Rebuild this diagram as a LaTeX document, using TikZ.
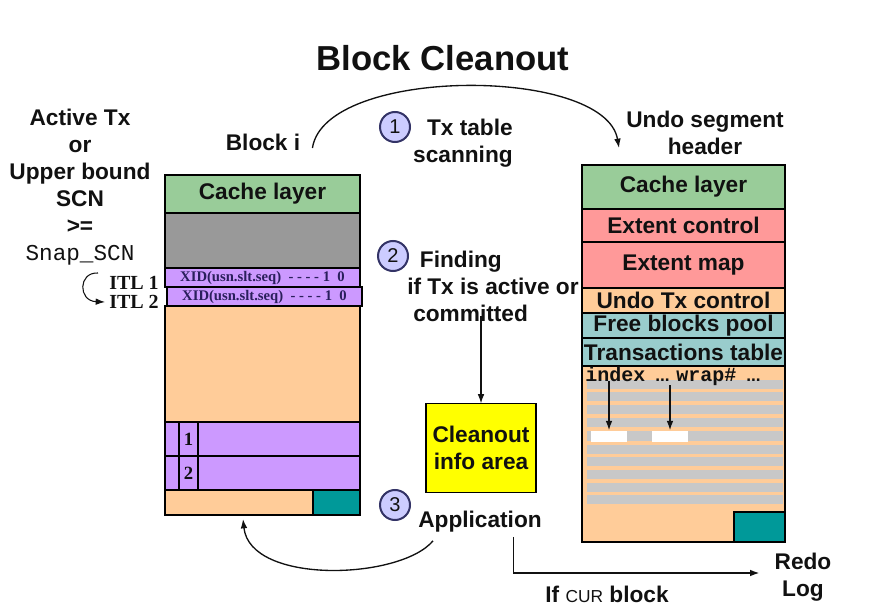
\documentclass[tikz,border=0pt]{standalone}
\usepackage{fontspec}
\setmainfont{Liberation Sans}
\setmonofont{Liberation Mono}
\newfontfamily\timesfont{Liberation Serif}
\usepackage{tikz}
\usetikzlibrary{positioning,arrows.meta,calc}
\definecolor{BCink}{HTML}{111111}
\definecolor{BCgreen}{HTML}{99CC99}
\definecolor{BCgray}{HTML}{999999}
\definecolor{BCpurple}{HTML}{CC99FF}
\definecolor{BCpeach}{HTML}{FFCC99}
\definecolor{BCteal}{HTML}{009999}
\definecolor{BCrose}{HTML}{FF9999}
\definecolor{BCaqua}{HTML}{99CCCC}
\definecolor{BCstripe}{HTML}{C8C8C8}
\definecolor{BCyellow}{HTML}{FFFF00}
\definecolor{BClav}{HTML}{CCCCFF}
\definecolor{BCnavy}{HTML}{333366}
\definecolor{BCxid}{HTML}{2A1F5C}
\newcommand{\lbl}{\fontsize{17}{20.25}\selectfont\bfseries}
\newcommand{\xidfont}{\timesfont\fontsize{11}{11}\selectfont\bfseries}
\newcommand{\numfont}{\timesfont\fontsize{14}{14}\selectfont\bfseries}
\tikzset{
  layer/.style={draw=black, line width=1.5pt, outer sep=0pt, inner sep=0pt, font=\lbl, text=BCink},
  sized/.style 2 args={minimum width=#1*0.75pt, minimum height=#2*0.75pt},
  txt/.style={inner sep=0pt, font=\lbl, text=BCink, align=center},
  stepnum/.style={circle, draw=BCnavy, fill=BClav, line width=1.5pt, minimum size=22.5pt, inner sep=0pt, font=\fontsize{15}{15}\selectfont, text=BCink},
  arr/.style={-{Latex[length=7pt,width=5pt]}, line width=1pt, draw=BCink},
  slot/.style={fill=white, sized={36}{11}, inner sep=0pt},
  xidrow/.style={layer, fill=BCpurple, sized={195}{19}, font=\xidfont, text=BCxid},
  colhead/.style={txt, font=\fontsize{15}{15}\selectfont\ttfamily\bfseries},
  coldots/.style={txt, font=\fontsize{13}{13}\selectfont\bfseries}
}

\begin{document}
\begin{tikzpicture}[x=0.75pt, y=-0.75pt]
\useasboundingbox (0,0) rectangle (882,606);

\node[txt, font=\fontsize{26}{30}\selectfont\bfseries] (title) at (443,58) {Block Cleanout};

\node[layer, fill=BCgreen, sized={195}{38}, anchor=north west] (lcache) at (165,175) {Cache layer};
\node[layer, fill=BCgray, sized={195}{55}, below=0pt of lcache] (lgray) {};
\node[xidrow, below=0pt of lgray] (itlA) {XID(usn.slt.seq)\ \ - - - - 1\ \ 0};
\node[xidrow, below=0pt of itlA, xshift=1.5pt] (itlB) {XID(usn.slt.seq)\ \ - - - - 1\ \ 0};
\node[layer, fill=BCpeach, sized={195}{116}, anchor=north west] (lbody) at (165,306) {};
\node[layer, fill=BCpurple, sized={14}{34}, anchor=north west] (rowAtag) at (165,422) {};
\node[layer, fill=BCpurple, sized={19}{34}, right=0pt of rowAtag, font=\numfont] (rowAnum) {1};
\node[layer, fill=BCpurple, sized={162}{34}, right=0pt of rowAnum] (rowAslot) {};
\node[layer, fill=BCpurple, sized={14}{34}, below=0pt of rowAtag] (rowBtag) {};
\node[layer, fill=BCpurple, sized={19}{34}, right=0pt of rowBtag, font=\numfont] (rowBnum) {2};
\node[layer, fill=BCpurple, sized={162}{34}, right=0pt of rowBnum] (rowBslot) {};
\node[layer, fill=BCpeach, sized={148}{25}, anchor=north west] (lfoot) at (165,490) {};
\node[layer, fill=BCteal, sized={47}{25}, right=0pt of lfoot] (lteal) {};

\node[layer, fill=BCgreen, sized={203}{44}, anchor=north west] (rcache) at (582,165) {Cache layer};
\node[layer, fill=BCrose, sized={203}{33}, below=0pt of rcache] (extctl) {Extent control};
\node[layer, fill=BCrose, sized={203}{46}, below=0pt of extctl] (extmap) {Extent map};
\node[layer, fill=BCpeach, sized={203}{25}, below=0pt of extmap] (undoctl) {Undo Tx control};
\node[layer, fill=BCaqua, sized={203}{25}, below=0pt of undoctl] (freepool) {Free blocks pool};
\node[layer, fill=BCaqua, sized={203}{28}, below=0pt of freepool] (txtable) {Transactions table};
\node[layer, fill=BCpeach, sized={203}{176}, below=0pt of txtable] (rbody) {};
\fill[BCstripe] (587,380) rectangle (783,389);
\fill[BCstripe] (587,392) rectangle (783,401);
\fill[BCstripe] (587,405) rectangle (783,414);
\fill[BCstripe] (587,418) rectangle (783,427);
\fill[BCstripe] (587,431) rectangle (783,441);
\fill[BCstripe] (587,445) rectangle (783,454);
\fill[BCstripe] (587,457) rectangle (783,466);
\fill[BCstripe] (587,470) rectangle (783,479);
\fill[BCstripe] (587,483) rectangle (783,492);
\fill[BCstripe] (587,495) rectangle (783,504);
\node[layer, fill=BCteal, sized={51}{30}, anchor=south east] (rteal) at (rbody.south east) {};
\node[slot] (slotA) at (609,436) {};
\node[slot] (slotB) at (670,436) {};
\node[colhead, anchor=base west] (idx) at (585,381) {index};
\node[coldots, anchor=base west] (dotsA) at (655,381) {...};
\node[colhead, anchor=base west] (wrp) at (676,381) {wrap\#};
\node[coldots, anchor=base west] (dotsB) at (746,381) {...};
\draw[arr] (slotA.north |- idx.south) -- (slotA.north);
\draw[arr] (slotB.north |- wrp.south) -- (slotB.north);

\node[txt] (active) at (80,187) {Active Tx\\or\\Upper bound\\SCN\\>=\\{\ttfamily\mdseries Snap\_SCN}};
\node[txt, font=\timesfont\fontsize{15}{15}\selectfont\bfseries] (itlone) at (134,283) {ITL 1};
\node[txt, font=\timesfont\fontsize{15}{15}\selectfont\bfseries] (itltwo) at (134,302) {ITL 2};
\draw[arr, line width=0.8pt] ([shift={(-11,-10)}]itlone.west) .. controls (78,272) and (78,301) .. ([xshift=-3]itltwo.west);

\node[txt] (blocki) at (263,142) {Block i};
\node[txt] (undohdr) at (705,133) {Undo segment\\header};
\node[stepnum] (stepA) at (395,127) {1};
\node[txt, align=right, anchor=east] (scan) at (513,143) {Tx table\\scanning};
\draw[arr] ([shift={(12,6)}]blocki.east) .. controls (325,66) and (605,66) .. ([shift={(-7,15)}]undohdr.west);

\node[stepnum] (stepB) at (393,256) {2};
\node[txt, align=left, anchor=north west] (finding) at (407,251) {\hspace{9.5pt}Finding\\if Tx is active or\\\hspace{4.5pt}committed};
\node[layer, line width=1pt, fill=BCyellow, sized={110}{89}, align=center] (cleanout) at (481,448) {Cleanout\\info area};
\draw[arr] (finding.south -| cleanout.north) ++(0,-6) -- (cleanout.north);

\node[stepnum] (stepC) at (395,505) {3};
\node[txt] (app) at (480,522) {Application};
\draw[arr] ([shift={(15,8)}]app.south west) .. controls (400,580) and (250,585) .. ([shift={(78,4)}]lfoot.south west);

\node[txt] (redo) at (803,577) {Redo\\Log};
\node[txt] (ifcur) at (607,594) {If {\fontsize{13}{13}\selectfont\mdseries CUR} block};
\draw[arr] ([xshift=25pt, yshift=-3pt]app.south) |- ([shift={(-15,-4)}]redo.west);
\end{tikzpicture}
\end{document}
